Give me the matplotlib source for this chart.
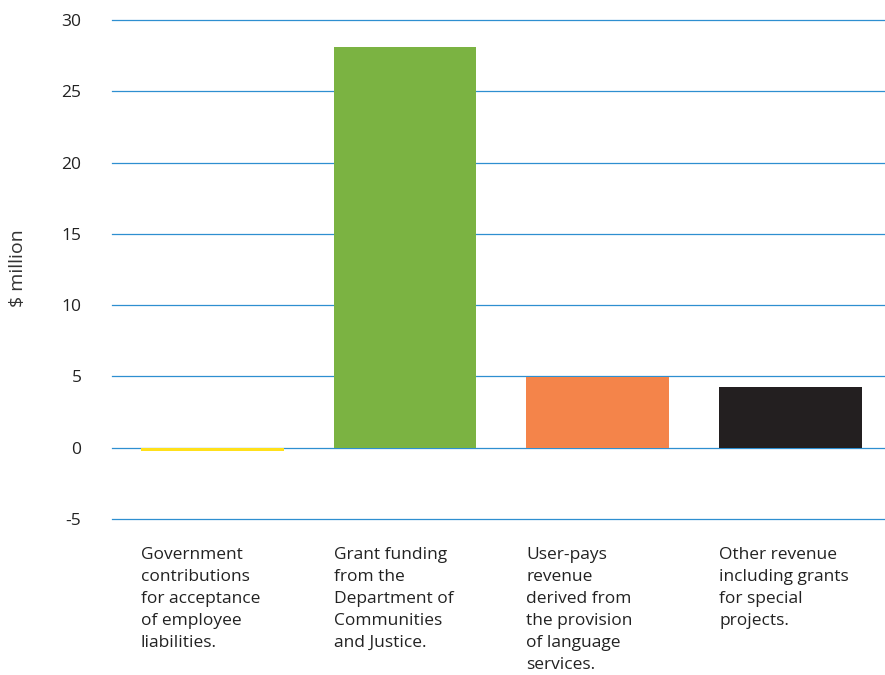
import matplotlib
matplotlib.use('Agg')
import matplotlib.pyplot as plt

plt.rcParams['font.family'] = ['Open Sans', 'DejaVu Sans']

# Данные
categories = [
    'Government\ncontributions\nfor acceptance\nof employee\nliabilities.',
    'Grant funding\nfrom the\nDepartment of\nCommunities\nand Justice.',
    'User-pays\nrevenue\nderived from\nthe provision\nof language\nservices.',
    'Other revenue\nincluding grants\nfor special\nprojects.',
]
values = [-0.2, 28.1, 4.97, 4.28]
colors = ['#ffe01b', '#7bb342', '#f4844a', '#231f20']
yticks = [-5, 0, 5, 10, 15, 20, 25, 30]

fig = plt.figure(figsize=(8.85, 6.75), dpi=100)
ax = fig.add_axes([112 / 885, 1 - 519 / 675, 1 - 112 / 885, (519 - 20) / 675])

# Сетка
for t in yticks:
    ax.axhline(t, color='#2e8fd0', linewidth=0.9, zorder=1, clip_on=False)

x = list(range(len(values)))
bar_w = 0.74
ax.bar(x, values, width=bar_w, color=colors, zorder=3)

ax.set_xlim(-0.52, 3.49)
ax.set_ylim(-5, 30)
ax.set_yticks(yticks)
ax.set_yticklabels([str(t) for t in yticks], fontsize=12.5, color='#222222')
ax.tick_params(axis='y', length=0, pad=22)
ax.set_xticks([])

for s in ax.spines.values():
    s.set_visible(False)

# Подписи категорий под графиком
for i, lab in enumerate(categories):
    ax.text(i - bar_w / 2, -6.95, lab, ha='left', va='top', fontsize=12.5,
            color='#222222', linespacing=1.5)

fig.text(18 / 885, 1 - 268 / 675, '$ million', rotation=90, ha='center',
         va='center', fontsize=14, color='#333333')

plt.savefig('out.png', dpi=100)
plt.close()
